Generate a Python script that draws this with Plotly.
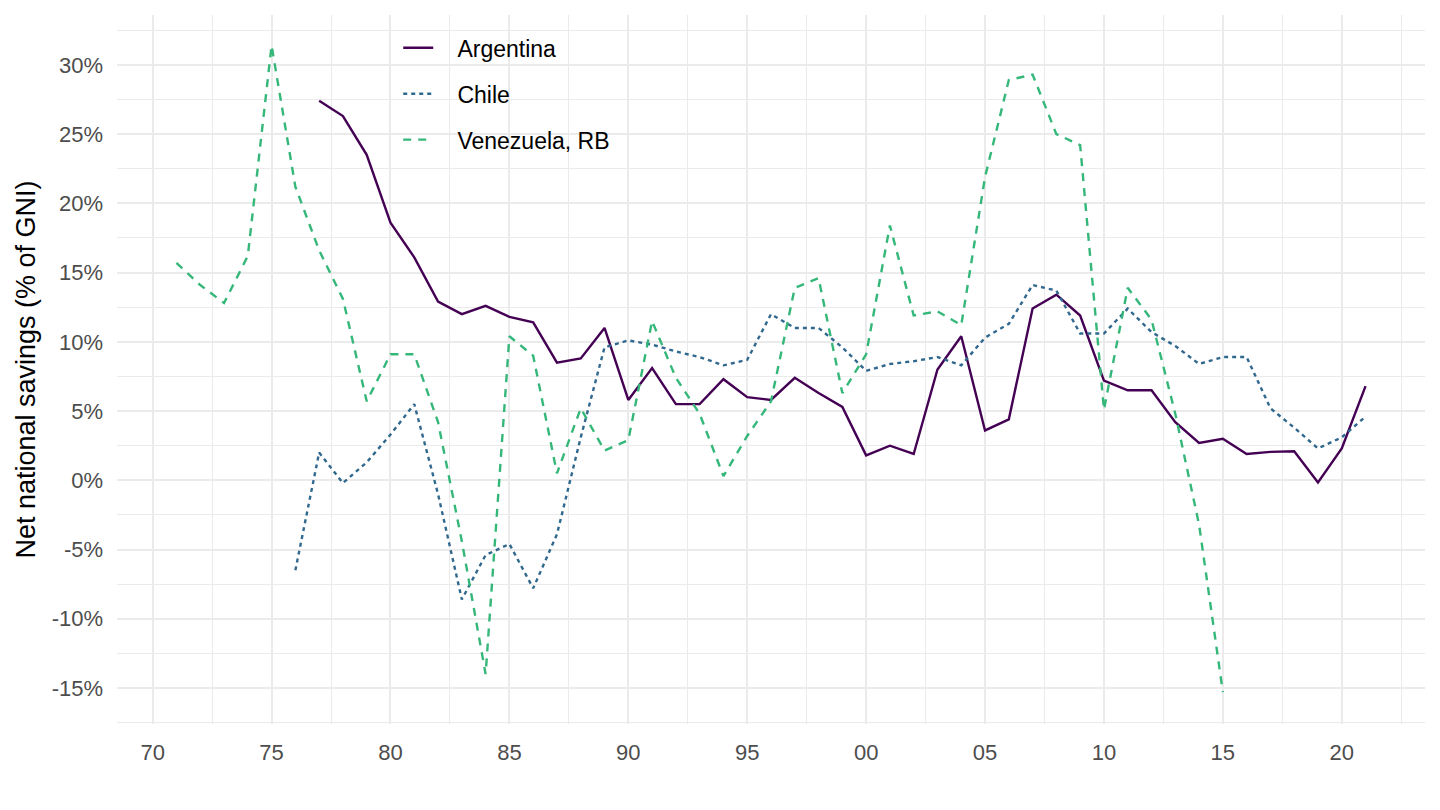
"""
Net national savings (% of GNI): Argentina, Chile, Venezuela
"""
import plotly.graph_objects as go

# years
years_arg = list(range(1977, 2022))
years_chl = list(range(1976, 2022))
years_ven = list(range(1971, 2016))

# values (% of GNI)
argentina = [27.4, 26.3, 23.5, 18.6, 16.1, 12.9, 12.0, 12.6, 11.8, 11.4,
             8.5, 8.8, 11.0, 5.8, 8.1, 5.5, 5.5, 7.3, 6.0, 5.8,
             7.4, 6.3, 5.3, 1.8, 2.5, 1.9, 8.0, 10.4, 3.6, 4.4,
             12.4, 13.4, 11.9, 7.2, 6.5, 6.5, 4.2, 2.7, 3.0, 1.9,
             2.05, 2.1, -0.15, 2.3, 6.8]
chile = [-6.5, 2.0, -0.2, 1.3, 3.3, 5.5, -1.0, -8.6, -5.4, -4.6,
         -7.8, -3.9, 3.1, 9.6, 10.1, 9.8, 9.3, 8.9, 8.3, 8.7,
         12.0, 11.0, 11.0, 9.6, 7.9, 8.4, 8.6, 8.9, 8.3, 10.3,
         11.3, 14.1, 13.7, 10.6, 10.6, 12.4, 10.7, 9.7, 8.4, 8.9,
         8.9, 5.2, 3.8, 2.3, 3.1, 4.6]
venezuela = [15.7, 14.1, 12.8, 16.2, 31.4, 21.2, 16.6, 13.1, 5.7, 9.1,
             9.1, 4.2, -4.4, -14.0, 10.4, 9.0, 0.5, 5.2, 2.15, 2.9,
             11.5, 7.4, 4.8, 0.3, 3.2, 5.7, 13.9, 14.6, 6.3, 9.1,
             18.4, 11.9, 12.2, 11.2, 21.9, 28.9, 29.3, 25.0, 24.2, 5.1,
             13.9, 11.6, 4.8, -3.2, -15.3]

# axis ticks
x_ticks = list(range(1970, 2021, 5))
x_labels = [str(y)[2:] for y in x_ticks]
y_ticks = list(range(-15, 31, 5))
y_labels = [f"{v}%" for v in y_ticks]

grid = '#EBEBEB'
pad = '\u00a0\u00a0\u00a0'  # space between legend key and label
fig = go.Figure()

fig.add_trace(go.Scatter(
    x=years_arg, y=argentina, mode='lines', name=pad + 'Argentina',
    line=dict(color='#440154', width=2.4, dash='solid'),
    legendgroup='a'
))
fig.add_trace(go.Scatter(
    x=years_chl, y=chile, mode='lines', name=pad + 'Chile',
    line=dict(color='#31688E', width=2.4, dash='4px,4px'),
    legendgroup='c'
))
fig.add_trace(go.Scatter(
    x=years_ven, y=venezuela, mode='lines', name=pad + 'Venezuela, RB',
    line=dict(color='#35B779', width=2.4, dash='8px,7px'),
    legendgroup='v'
))

# page body has an 8px margin, so the figure is sized to fit the window
fig.update_layout(
    width=1432, height=802,
    paper_bgcolor='white', plot_bgcolor='white',
    font=dict(family='Liberation Sans, Arial, sans-serif', color='#4D4D4D', size=22),
    margin=dict(l=109, r=15, t=7, b=86),
    showlegend=True,
    legend=dict(
        x=0.215, y=0.984, xanchor='left', yanchor='top',
        bgcolor='rgba(0,0,0,0)', font=dict(size=23, color='black'),
        tracegroupgap=13
    )
)

fig.update_xaxes(
    range=[1968.5, 2023.5],
    tickvals=x_ticks, ticktext=x_labels,
    showgrid=True, gridcolor=grid, gridwidth=2,
    minor=dict(dtick=2.5, tick0=1970, showgrid=True, gridcolor=grid, gridwidth=1),
    zeroline=False, showline=False, ticks='', automargin=False,
    ticklabelstandoff=13,
    tickfont=dict(size=22, color='#4D4D4D')
)
fig.update_yaxes(
    range=[-17.6, 33.6],
    tickvals=y_ticks, ticktext=y_labels,
    showgrid=True, gridcolor=grid, gridwidth=2,
    minor=dict(dtick=2.5, tick0=0, showgrid=True, gridcolor=grid, gridwidth=1),
    zeroline=False, showline=False, ticks='', automargin=False,
    ticklabelstandoff=13,
    title=dict(text='Net national savings (% of GNI)', font=dict(size=27, color='black'), standoff=8),
    tickfont=dict(size=22, color='#4D4D4D')
)

fig.write_html("out.html")
